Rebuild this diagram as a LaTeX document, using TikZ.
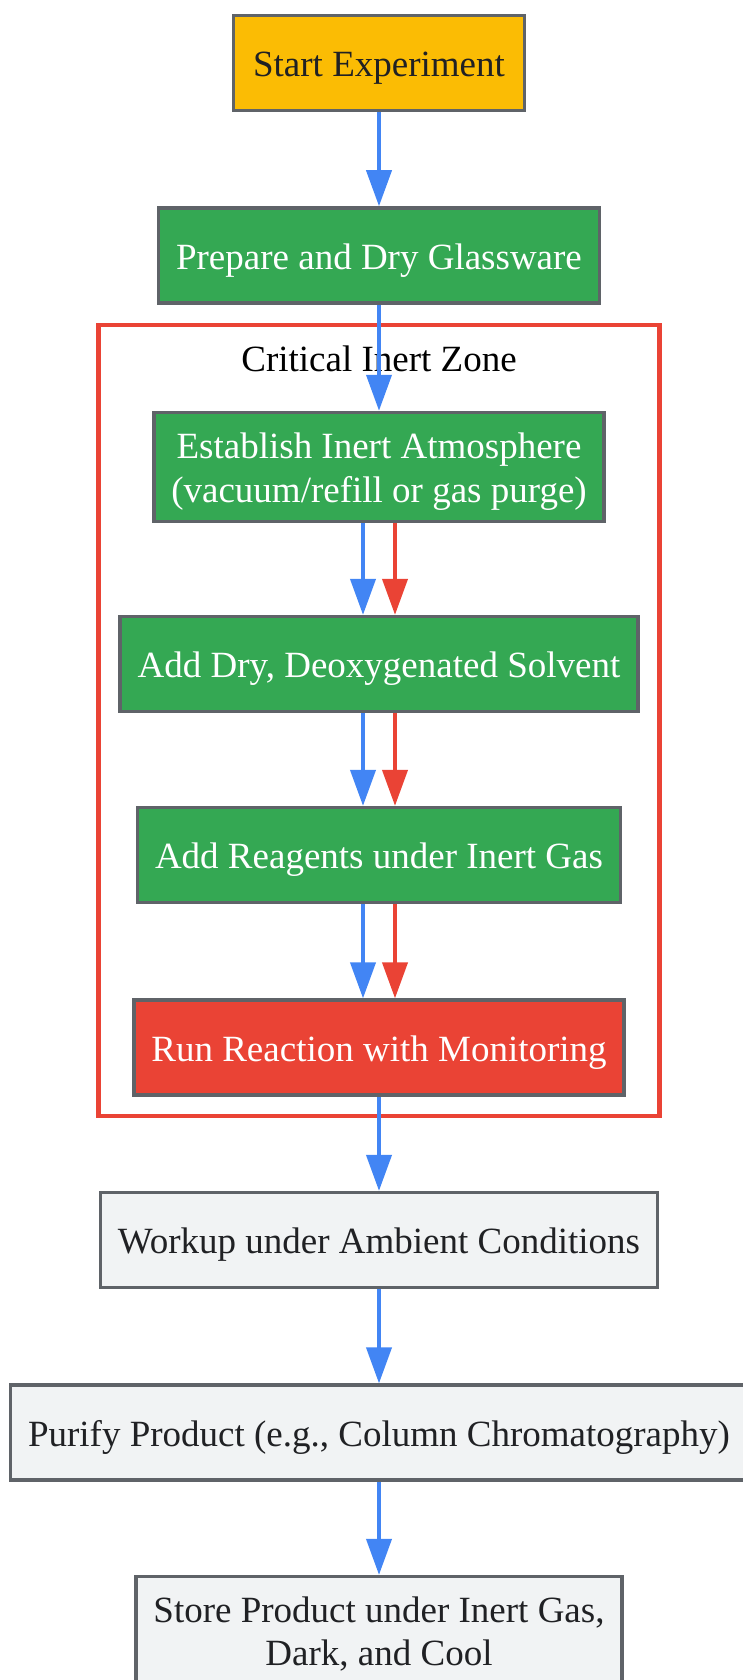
\documentclass[tikz,border=0pt]{standalone}
\usepackage{fontspec}
\setmainfont{Liberation Serif}
\usetikzlibrary{positioning}
\usetikzlibrary{calc}
\usetikzlibrary{arrows.meta}
\definecolor{startyellow}{HTML}{FBBC04}
\definecolor{stepgreen}{HTML}{34A853}
\definecolor{alertred}{HTML}{EA4335}
\definecolor{plaingrey}{HTML}{F1F3F4}
\definecolor{edgegrey}{HTML}{5F6368}
\definecolor{flowblue}{HTML}{4285F4}
\definecolor{inkdark}{HTML}{202124}
\newcommand{\lineup}{\rule[-7.5pt]{0pt}{43pt}}

\begin{document}
\begin{tikzpicture}[every node/.style={font=\fontsize{37}{43}\selectfont},
                    stepbox/.style={draw=edgegrey, line width=3.5pt, rectangle, align=center,
                                    minimum height=95pt, inner xsep=17.5pt, inner ysep=10.5pt,
                                    execute at begin node=\lineup, execute at end node=\lineup},
                    startbox/.style={stepbox, fill=startyellow, text=inkdark, minimum width=291pt},
                    inertbox/.style={stepbox, fill=stepgreen, text=white},
                    hotbox/.style={stepbox, fill=alertred, text=white},
                    ambientbox/.style={stepbox, fill=plaingrey, text=inkdark},
                    flow/.style={draw=flowblue, line width=4pt, -{Triangle[length=36pt,width=25pt]}},
                    node distance=94pt]
            \useasboundingbox (0,0) rectangle (743pt,-1680pt);
            \node[startbox] (start) at (379pt,-63pt) {Start Experiment};
            \node[inertbox, below=of start] (prep) {Prepare and Dry Glassware};
            \node[inertbox, below=106pt of prep] (est) {\lineup Establish Inert Atmosphere\\(vacuum/refill or gas purge)\lineup};
            \node[inertbox, below=91.75pt of est] (dry) {Add Dry, Deoxygenated Solvent};
            \node[inertbox, below=92.5pt of dry] (reag) {Add Reagents under Inert Gas};
            \node[hotbox, below=of reag] (run) {Run Reaction with Monitoring};
            \node[ambientbox, below=of run] (work) {Workup under Ambient Conditions};
            \node[ambientbox, below=of work] (pur) {Purify Product (e.g., Column Chromatography)};
            \node[ambientbox, below=93pt of pur] (store) {\lineup Store Product under Inert Gas,\\Dark, and Cool\lineup};
            % critical inert zone
            \draw[alertred, line width=4.5pt] ($(dry.west |- est.north)+(-19.75pt,85.75pt)$) rectangle ($(dry.east |- run.south)+(19.75pt,-19.25pt)$);
            \node (zone) at ($(est.north)+(0,52pt)$) {Critical Inert Zone};
            % edges
            \foreach \a/\b in {start/prep, prep/est, run/work, work/pur, pur/store}
                \draw[flow] (\a) -- (\b);
            \foreach \a/\b in {est/dry, dry/reag, reag/run} {
                \draw[flow] ([xshift=-16pt]\a.south) -- ([xshift=-16pt]\b.north);
                \draw[flow, draw=alertred] ([xshift=16pt]\a.south) -- ([xshift=16pt]\b.north);
            }
        \end{tikzpicture}
\end{document}
